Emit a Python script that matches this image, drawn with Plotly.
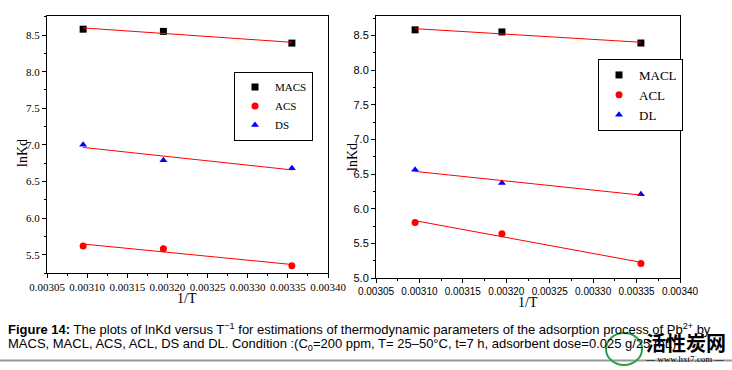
import numpy as np
import plotly.graph_objects as go

# ---- data ----
inv_T = [0.003095, 0.003195, 0.003355]

MACS = [8.58, 8.55, 8.39]
ACS = [5.62, 5.58, 5.35]
DS = [7.00, 6.79, 6.68]

MACL = [8.58, 8.55, 8.39]
ACL = [5.80, 5.64, 5.21]
DL = [6.56, 6.37, 6.21]

x_ticks = [0.00305, 0.00310, 0.00315, 0.00320, 0.00325, 0.00330, 0.00335, 0.00340]
x_ticklabels = ["0.00305", "0.00310", "0.00315", "0.00320", "0.00325", "0.00330", "0.00335", "0.00340"]
yl_ticks = [5.5, 6.0, 6.5, 7.0, 7.5, 8.0, 8.5]
yr_ticks = [5.0, 5.5, 6.0, 6.5, 7.0, 7.5, 8.0, 8.5]

W, H = 732, 370

def px_x(p):
    return p / W

def px_y(p):
    return 1 - p / H

fig = go.Figure()

def fit_line(xs, ys):
    k, b = np.polyfit(xs, ys, 1)
    xx = [xs[0], xs[-1]]
    return xx, [k * v + b for v in xx]

series_left = [("MACS", MACS, "black", "square"),
               ("ACS", ACS, "red", "circle"),
               ("DS", DS, "blue", "triangle-up")]
series_right = [("MACL", MACL, "black", "square"),
                ("ACL", ACL, "red", "circle"),
                ("DL", DL, "blue", "triangle-up")]

for (name, ys, col, sym) in series_left:
    fig.add_trace(go.Scatter(x=inv_T, y=ys, mode="markers", name=name,
                             marker=dict(color=col, symbol=sym, size=7),
                             xaxis="x", yaxis="y", legend="legend"))
    fx, fy = fit_line(inv_T, ys)
    fig.add_trace(go.Scatter(x=fx, y=fy, mode="lines", showlegend=False,
                             line=dict(color="red", width=1),
                             xaxis="x", yaxis="y"))

for i, (name, ys, col, sym) in enumerate(series_right):
    fig.add_trace(go.Scatter(x=inv_T, y=ys, mode="markers", name=name,
                             marker=dict(color=col, symbol=sym, size=7),
                             xaxis="x2", yaxis="y2", legend="legend2"))
    fx, fy = fit_line(inv_T, ys)
    fig.add_trace(go.Scatter(x=fx, y=fy, mode="lines", showlegend=False,
                             line=dict(color="red", width=1),
                             xaxis="x2", yaxis="y2"))

serif = "Liberation Serif"
sans = "Liberation Sans"

axis_common = dict(showline=True, linecolor="black", linewidth=1, mirror=True,
                   ticks="outside", ticklen=4, tickcolor="black", showgrid=False,
                   zeroline=False, automargin=False)

fig.update_layout(
    template="none",
    width=W, height=H,
    margin=dict(l=0, r=0, t=0, b=0, pad=0),
    paper_bgcolor="white", plot_bgcolor="white",
    xaxis=dict(domain=[px_x(47), px_x(328)], range=[0.00305, 0.00340],
               tickvals=x_ticks, ticktext=x_ticklabels, tickangle=0,
               tickfont=dict(family=serif, size=11, color="black"),
               minor=dict(ticks="outside", ticklen=2, dtick=0.000025, tickcolor="black"),
               anchor="y", **axis_common),
    yaxis=dict(domain=[px_y(273), px_y(16)], range=[5.25, 8.76],
               tickvals=yl_ticks, ticktext=["%.1f" % v for v in yl_ticks],
               tickfont=dict(family=serif, size=11, color="black"),
               minor=dict(ticks="outside", ticklen=2, dtick=0.25, tickcolor="black"),
               anchor="x", **axis_common),
    xaxis2=dict(domain=[px_x(376), px_x(680)], range=[0.00305, 0.00340],
                tickvals=x_ticks, ticktext=x_ticklabels, tickangle=0,
                tickfont=dict(family=sans, size=10, color="black"),
                minor=dict(ticks="outside", ticklen=2, dtick=0.000025, tickcolor="black"),
                anchor="y2", **axis_common),
    yaxis2=dict(domain=[px_y(278), px_y(16)], range=[5.0, 8.78],
                tickvals=yr_ticks, ticktext=["%.1f" % v for v in yr_ticks],
                tickfont=dict(family=sans, size=11, color="black"),
                minor=dict(ticks="outside", ticklen=2, dtick=0.25, tickcolor="black"),
                anchor="x2", **axis_common),
    legend=dict(x=px_x(234), y=px_y(106), xanchor="left", yanchor="middle",
                bordercolor="black", borderwidth=1, bgcolor="white",
                font=dict(family=serif, size=11, color="black"),
                itemwidth=30, tracegroupgap=0),
    legend2=dict(x=px_x(598), y=px_y(95), xanchor="left", yanchor="middle",
                 bordercolor="black", borderwidth=1, bgcolor="white",
                 font=dict(family=serif, size=13, color="black"),
                 itemwidth=30, tracegroupgap=0),
    showlegend=True,
)

annotations = [
    dict(text="lnKd", x=px_x(22), y=px_y(153), textangle=-90, xanchor="center",
         font=dict(family=serif, size=14, color="black")),
    dict(text="1/T", x=px_x(187), y=px_y(298), xanchor="center",
         font=dict(family=serif, size=14, color="black")),
    dict(text="lnKd", x=px_x(352), y=px_y(157), textangle=-90, xanchor="center",
         font=dict(family=serif, size=14, color="black")),
    dict(text="1/T", x=px_x(528), y=px_y(302), xanchor="center",
         font=dict(family=serif, size=14, color="black")),
    dict(text="<b>Figure 14:</b> The plots of lnKd versus T<sup>−1</sup> for estimations of thermodynamic parameters of the adsorption process of Pb<sup>2+</sup> by",
         x=px_x(6), y=px_y(329), xanchor="left",
         font=dict(family=sans, size=13, color="black")),
    dict(text="MACS, MACL, ACS, ACL, DS and DL. Condition :(C<sub>0</sub>=200 ppm, T= 25–50°C, t=7 h, adsorbent dose=0.025 g/25 mL)",
         x=px_x(6), y=px_y(344), xanchor="left",
         font=dict(family=sans, size=13, color="black")),
    dict(text="<b>活性炭网</b>", x=px_x(644), y=px_y(342), xanchor="left",
         font=dict(family="Noto Sans CJK SC", size=20, color="black")),
    dict(text="— www.hxt7.com —", x=px_x(643), y=px_y(359), xanchor="left",
         font=dict(family=serif, size=9, color="black")),
]
for a in annotations:
    a.update(xref="paper", yref="paper", showarrow=False, yanchor="middle")
fig.update_layout(annotations=annotations)

fig.update_layout(shapes=[
    dict(type="line", xref="paper", yref="paper", x0=0, x1=1,
         y0=px_y(360.5), y1=px_y(360.5), line=dict(color="#999999", width=2)),
    dict(type="circle", xref="paper", yref="paper",
         x0=px_x(606), x1=px_x(642), y0=px_y(365), y1=px_y(333),
         line=dict(color="#2e9e4a", width=2)),
])

fig.write_html("out.html", config={"displayModeBar": False},
               post_script="document.body.style.margin='0';")
